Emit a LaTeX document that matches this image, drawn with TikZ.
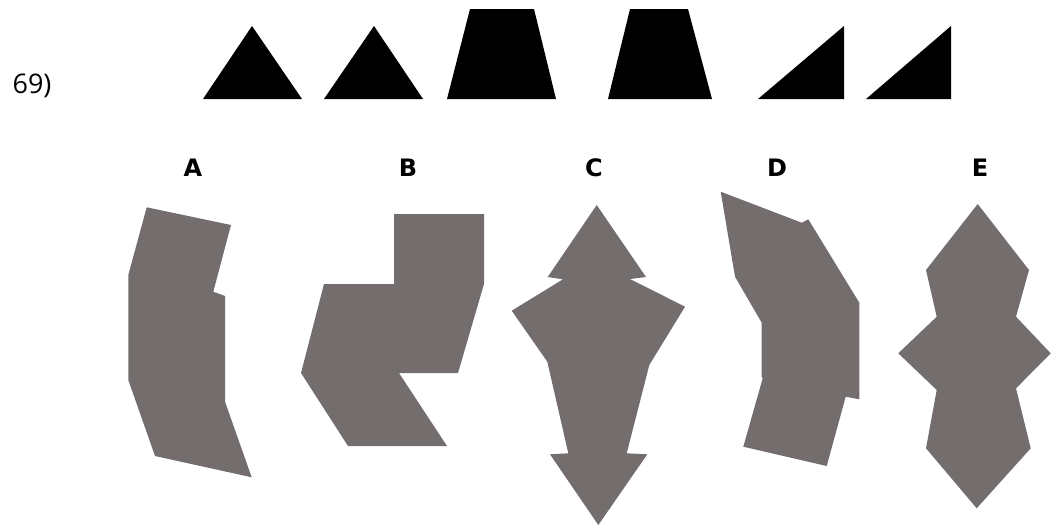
\documentclass[tikz,border=0pt]{standalone}
\usepackage{fontspec}
\setmainfont{Open Sans}
\newfontfamily\lblfont{DejaVu Sans}
\definecolor{piece}{RGB}{116,109,109}
\begin{document}
\begin{tikzpicture}[x=1pt,y=-1pt,
  blk/.style={fill=black,draw=none},
  gry/.style={fill=piece,draw=none},
  lbl/.style={font=\lblfont\bfseries\fontsize{24}{28}\selectfont,inner sep=0pt,anchor=center}]
\useasboundingbox (0,0) rectangle (1051,530);
\node[font=\fontsize{27}{30}\selectfont,inner sep=0pt] (num) at (32,86) {69)};
% top pieces
\path[blk] (203,99) -- (252,26) -- (302,99) -- cycle;
\path[blk] (324,99) -- (374,26) -- (423,99) -- cycle;
\path[blk] (447,99) -- (470,9) -- (534,9) -- (556,99) -- cycle;
\path[blk] (608,99) -- (630,9) -- (688,9) -- (712,99) -- cycle;
\path[blk] (758,99) -- (844,26) -- (844,99) -- cycle;
\path[blk] (866,99) -- (951,26) -- (951,99) -- cycle;
% labels
\node[lbl] (la) at (193,168) {A};
\node[lbl] (lb) at (408,168) {B};
\node[lbl] (lc) at (594,168) {C};
\node[lbl] (ld) at (777,168) {D};
\node[lbl] (le) at (980,168) {E};
% A
\path[gry] (146.7,207.3) -- (231,225) -- (213.3,291.7) -- (225,296) -- (225,401.7)
  -- (251.7,477.3) -- (155,456) -- (128.3,380) -- (128.3,275) -- cycle;
% B
\path[gry] (394,214) -- (484,214) -- (484,284) -- (458,373) -- (399,373) -- (447,446)
  -- (348,446) -- (301,373) -- (324,284) -- (394,284) -- cycle;
% C
\path[gry] (596.7,205) -- (646,277) -- (630,279) -- (685,306.7) -- (649.3,365)
  -- (626.7,453.3) -- (647.3,454.3) -- (598.3,525) -- (550,454.3) -- (568.3,453.3)
  -- (547.3,361.7) -- (511.7,310.7) -- (563,279.3) -- (547.7,277) -- cycle;
% D
\path[gry] (720.7,191.7) -- (801.7,222.7) -- (808.3,219.3) -- (859.3,302.7) -- (859.3,399.3)
  -- (845.7,396.7) -- (826.7,466) -- (743.3,446.7) -- (762.7,378.3) -- (761.7,376.7)
  -- (761.7,322.7) -- (735,276.7) -- cycle;
% E
\path[gry] (977.7,204) -- (1029,270) -- (1016,316.7) -- (1050.7,353.3) -- (1016,388.3)
  -- (1030.7,448.3) -- (976.7,508.3) -- (926,448.3) -- (936.7,390) -- (898.3,353.3)
  -- (936.7,316.7) -- (926,270) -- cycle;
\end{tikzpicture}
\end{document}
